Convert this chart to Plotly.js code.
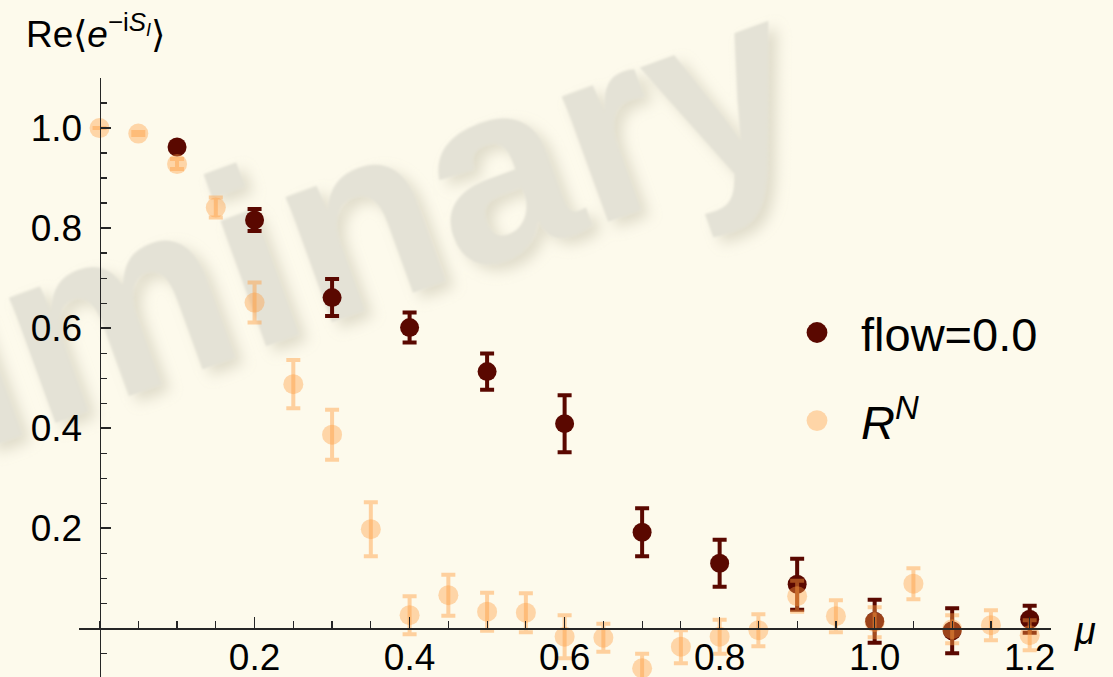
<!DOCTYPE html>
<html>
<head>
<meta charset="utf-8">
<script src="https://cdn.plot.ly/plotly-3.0.1.min.js"></script>
<style>
  html, body { margin: 0; padding: 0; background: #fdfaec; overflow: hidden; }
  #chart { width: 1113px; height: 677px; }
</style>
</head>
<body>
<div id="chart"></div>
<script>
// Chemical potential values for each ensemble
const muFlow = [0.1, 0.2, 0.3, 0.4, 0.5, 0.6, 0.7, 0.8, 0.9, 1.0, 1.1, 1.2];
const reFlow = [0.962, 0.816, 0.661, 0.601, 0.513, 0.409, 0.192, 0.130, 0.088, 0.014, -0.005, 0.018];
const errFlow = [0.004, 0.022, 0.037, 0.030, 0.036, 0.057, 0.048, 0.047, 0.051, 0.043, 0.045, 0.027];

const muRN = [0.0, 0.05, 0.1, 0.15, 0.2, 0.25, 0.3, 0.35, 0.4, 0.45, 0.5, 0.55, 0.6,
              0.65, 0.7, 0.75, 0.8, 0.85, 0.9, 0.95, 1.0, 1.05, 1.1, 1.15, 1.2];
const reRN = [1.000, 0.989, 0.928, 0.841, 0.651, 0.488, 0.387, 0.198, 0.026, 0.066, 0.033, 0.031, -0.017,
              -0.019, -0.080, -0.037, -0.017, -0.004, 0.064, 0.024, 0.012, 0.089, -0.002, 0.006, -0.014];
const errRN = [0.000, 0.003, 0.010, 0.020, 0.040, 0.048, 0.050, 0.054, 0.038, 0.041, 0.038, 0.039, 0.043,
               0.028, 0.029, 0.033, 0.034, 0.032, 0.031, 0.032, 0.030, 0.031, 0.028, 0.030, 0.030];

const seriesNames = ['flow=0.0', '<i>R</i><sup><i>N</i></sup>'];
const xTicks = [0.2, 0.4, 0.6, 0.8, 1.0, 1.2];
const yTicks = [0.2, 0.4, 0.6, 0.8, 1.0];

const FONT = '"Liberation Sans", Arial, sans-serif';
const DARK = '#5a0800';
const LIGHT = 'rgba(255,158,64,0.40)';
const LIGHT_BAR = 'rgba(255,158,64,0.45)';
const AXIS = '#262626';

const xRange = [-0.0265, 1.2275];
const yRange = [-0.0976, 1.1001];

const traces = [
  {
    x: muFlow, y: reFlow, name: seriesNames[0], legendgroup: 'a',
    type: 'scatter', mode: 'markers', cliponaxis: false,
    marker: { color: DARK, size: 19 },
    error_y: { type: 'data', array: errFlow, visible: true, color: DARK, thickness: 4, width: 7 }
  },
  {
    x: muRN, y: reRN, name: seriesNames[1], legendgroup: 'b',
    type: 'scatter', mode: 'markers', cliponaxis: false,
    marker: { color: LIGHT, size: 20 },
    error_y: { type: 'data', array: errRN, visible: true, color: LIGHT_BAR, thickness: 4, width: 7 }
  }
];

const layout = {
  width: 1113, height: 677,
  margin: { l: 79, r: 62, t: 78, b: 0, pad: 0 },
  paper_bgcolor: '#fdfaec',
  plot_bgcolor: 'rgba(0,0,0,0)',
  font: { family: FONT, color: '#000' },
  showlegend: true,
  legend: {
    x: 0.714, y: 0.637, xanchor: 'left', yanchor: 'top',
    font: { family: FONT, size: 47, color: '#000' },
    bgcolor: 'rgba(0,0,0,0)', tracegroupgap: 24, itemsizing: 'trace', itemwidth: 78
  },
  xaxis: {
    range: xRange, anchor: 'free',
    position: (0 - yRange[0]) / (yRange[1] - yRange[0]),
    showgrid: false, zeroline: false,
    showline: true, linecolor: AXIS, linewidth: 1.4,
    tickmode: 'array', tickvals: xTicks, ticktext: xTicks.map(v => v.toFixed(1)),
    ticks: 'inside', ticklen: 11, tickwidth: 1.4, tickcolor: AXIS,
    tickfont: { family: FONT, size: 37, color: '#000' },
    ticklabelstandoff: 0,
    minor: { tickmode: 'linear', tick0: 0, dtick: 0.05, ticks: 'inside', ticklen: 7, tickwidth: 1.2, tickcolor: AXIS }
  },
  yaxis: {
    range: yRange, anchor: 'free',
    position: (0 - xRange[0]) / (xRange[1] - xRange[0]),
    showgrid: false, zeroline: false,
    showline: true, linecolor: AXIS, linewidth: 1.4,
    tickmode: 'array', tickvals: yTicks, ticktext: yTicks.map(v => v.toFixed(1)),
    ticks: 'inside', ticklen: 10, tickwidth: 1.4, tickcolor: AXIS,
    tickfont: { family: FONT, size: 37, color: '#000' },
    ticklabelstandoff: 10,
    minor: { tickmode: 'linear', tick0: 0, dtick: 0.05, ticks: 'inside', ticklen: 6, tickwidth: 1.2, tickcolor: AXIS }
  },
  shapes: [
    {
      type: 'rect', xref: 'paper', yref: 'paper', layer: 'below',
      x0: 0.054, x1: 0.056, y0: 0.668, y1: 0.67,
      line: { width: 0 }, fillcolor: 'rgba(0,0,0,0)',
      label: {
        text: 'Preliminary', textangle: -20, textposition: 'middle center',
        font: { family: FONT, size: 252, weight: 'bold', color: '#e4e2d6' }
      }
    }
  ],
  annotations: [
    {
      xref: 'paper', yref: 'paper', x: -0.0566, y: 1.077,
      xanchor: 'left', yanchor: 'middle', showarrow: false,
      text: 'Re⟨<i>e</i><sup>−i<i>S</i><sub><i>I</i></sub></sup>⟩',
      font: { family: FONT, size: 37, color: '#000' }
    },
    {
      xref: 'paper', yref: 'paper', x: 1.035, y: 0.076,
      xanchor: 'center', yanchor: 'middle', showarrow: false,
      text: '<i>μ</i>',
      font: { family: FONT, size: 38, color: '#000' }
    }
  ]
};

Plotly.newPlot('chart', traces, layout, { staticPlot: true, displayModeBar: false }).then(gd => {
  const svg = gd.querySelector('svg.main-svg');
  const ns = 'http://www.w3.org/2000/svg';
  let defs = svg.querySelector('defs');
  if (!defs) { defs = document.createElementNS(ns, 'defs'); svg.insertBefore(defs, svg.firstChild); }
  // soft drop shadow for the watermark lettering
  const f = document.createElementNS(ns, 'filter');
  f.setAttribute('id', 'wmSoft');
  f.setAttribute('x', '-20%'); f.setAttribute('y', '-20%');
  f.setAttribute('width', '140%'); f.setAttribute('height', '140%');
  f.innerHTML =
    '<feGaussianBlur in="SourceAlpha" stdDeviation="7" result="b"/>' +
    '<feOffset in="b" dx="6" dy="9" result="o"/>' +
    '<feFlood flood-color="#a9a48c" flood-opacity="0.35"/>' +
    '<feComposite in2="o" operator="in" result="s"/>' +
    '<feGaussianBlur in="SourceGraphic" stdDeviation="1.2" result="g"/>' +
    '<feMerge><feMergeNode in="s"/><feMergeNode in="g"/></feMerge>';
  defs.appendChild(f);
  gd.querySelectorAll('.layer-below .shapelayer text').forEach(t => t.setAttribute('filter', 'url(#wmSoft)'));
  // slightly larger legend dots
  gd.querySelectorAll('.legend .legendpoints path').forEach(p => {
    const tr = p.getAttribute('transform') || '';
    p.setAttribute('transform', tr + ' scale(1.3)');
  });
  // pull the mu tick labels a little closer to the axis line
  gd.querySelectorAll('.xtick text').forEach(t => {
    const y = parseFloat(t.getAttribute('y')) || 0;
    t.setAttribute('y', y - 4);
  });
});
</script>
</body>
</html>
